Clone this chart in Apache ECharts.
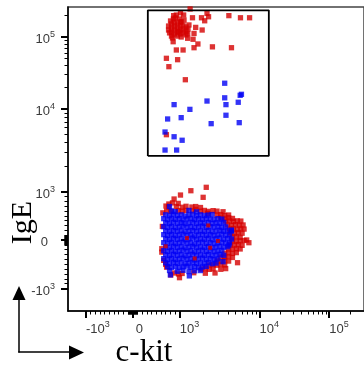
<!DOCTYPE html>
<html>
<head>
<meta charset="utf-8">
<script src="https://cdn.jsdelivr.net/npm/echarts@6/dist/echarts.min.js"></script>
<style>
  html, body { margin: 0; padding: 0; background: #fff; }
  #chart { width: 364px; height: 370px; }
</style>
</head>
<body>
<div id="chart"></div>
<script>
// tick values (real units) and their labels
var majorTicks = [-1000, 0, 1000, 10000, 100000];
var xTickLabels = ['-10{s|3}', '{z|0}', '10{s|3}', '10{s|4}', '10{s|5}'];
var yTickLabels = ['-10{s|3}', '{z|0}', '10{s|3}', '10{s|4}', '10{s|5}'];
var linearMinor = [10, 20, 30, 40, 50, 60, 70, 80, 90, 100, 200, 300, 400, 500, 600, 700, 800, 900];
var decadeMinor = [2000, 3000, 4000, 5000, 6000, 7000, 8000, 9000,
                   20000, 30000, 40000, 50000, 60000, 70000, 80000, 90000, 200000];

// gate (c-kit range, IgE range)
var gateX = [320, 13600];
var gateY = [2700, 235000];

// cells: [c-kit, IgE]
var redGate = [
  [1350,245000],[1445,185000],[1874,185000],[2197,213000],[2297,191000],[2055,168000],[4128,198000],
  [5770,185000],[7503,185000],[1585,136000],[1910,125000],[1511,112000],[1257,96000],[1469,93000],
  [860,86000],[1690,80000],[1511,71000],[2569,73000],[4451,71000],[928,66000],[1102,66000],
  [716,50600],[955,48400],[769,38700],[1176,25500],[716,4880],
  [762,142000],[762,125000],[783,114000],[824,152000],[824,133000],[824,117000],[824,103000],
  [886,161000],[886,142000],[886,125000],[886,110000],[948,152000],[948,133000],[948,117000],
  [948,103000],[1014,161000],[1014,142000],[1014,125000],[1014,110000],[1100,147000],[1100,129000],
  [1100,114000],[1200,138000],[1200,121000],[1200,107000],[1270,129000],[865,178000],[989,178000],
  [1132,172000],[845,97000],[1043,100000],[906,184000],[804,167000],[1305,147000],
  [870,198000],[928,202000],[1022,217000],[1120,202000],[1043,163000],[980,118000],[1257,112000]
];
var blueGate = [
  [3661,22800],[5934,16000],[5722,15500],[2197,12900],[3661,14300],[5411,12400],[3796,11500],
  [880,11500],[1341,9900],[3796,8400],[742,7570],[1043,7850],[2477,6640],[5566,6830],
  [687,5260],[880,4610],[1072,4180],[687,3180],[934,3180]
];
var redBlob = [
  [2150,1124],[1379,1022],[1965,880],[1022,927],[880,845],[768,742],[707,700],[1585,632],[2235,550],[3490,583],
  [845,765],[968,755],
  [762,680],[928,690],[1072,675],[1200,695],[1420,680],[1585,690],[1820,670],
  [721,600],[810,590],[968,605],[1072,595],[1200,610],[1458,600],[1820,595],[2037,610],[2279,590],[2620,605],[2929,595],
  [2929,515],[3270,525],[3663,505],[4100,515],
  [3270,455],[3663,450],[4100,460],[4580,445],
  [3765,390],[4210,395],[4700,385],[5260,395],[5830,390],
  [3981,310],[4451,300],[4980,315],[5566,305],[6220,310],
  [4210,225],[4700,230],[5260,220],[5830,230],[6400,225],
  [4328,145],[4840,140],[5410,150],[6050,140],
  [4580,60],[5118,65],[5722,55],
  [4580,-20],[5118,-25],[5722,-15],[6400,-10],[6900,0],[7356,-56],
  [4328,-100],[4840,-105],[5410,-95],[6050,-110],
  [4100,-185],[4580,-190],[5118,-180],[5722,-185],
  [3663,-270],[4100,-265],[4580,-275],[5118,-260],
  [3270,-350],[3663,-355],[4100,-345],[4580,-360],
  [2929,-430],[3270,-440],[3663,-425],[4100,-435],[5300,-468],
  [2340,-515],[2620,-510],[2929,-520],[3270,-505],[3663,-515],
  [1870,-600],[2095,-590],[2340,-605],[2620,-595],[3270,-604],[3765,-590],
  [886,-680],[1072,-690],[1500,-675],[2095,-685],[2770,-680],
  [974,-700],[995,-777],[810,-721],
  [618,-180],[618,-250],[630,280],[640,560],[700,-500],[720,-560],[659,-420]
];
var blueBlob = [
  [783,690],
  [824,600],[906,585],[1305,610],[1630,580],
  [700,520],[783,500],[865,530],[948,505],[1043,520],[1166,495],[1305,515],[1458,530],[1630,500],[1820,520],[2037,505],[2279,515],[2545,525],
  [659,440],[742,420],[824,445],[906,425],[989,440],[1100,415],[1233,435],[1379,445],[1540,420],[1723,440],[1927,425],[2150,445],[2409,430],[2694,420],[3010,440],[3368,430],
  [700,355],[783,340],[865,365],[948,345],[1043,360],[1166,335],[1305,350],[1458,365],[1630,340],[1820,355],[2037,345],[2279,360],[2545,340],[2848,355],[3184,345],[3560,360],
  [659,275],[742,260],[824,280],[906,255],[989,270],[1100,285],[1233,260],[1379,275],[1540,255],[1723,270],[1927,285],[2150,260],[2409,275],[2694,265],[3010,280],[3368,255],[3765,270],
  [700,190],[783,175],[865,195],[948,180],[1043,200],[1166,170],[1305,185],[1458,195],[1630,175],[1820,190],[2037,180],[2279,195],[2545,170],[2848,185],[3184,200],[3560,180],[3981,190],[4451,185],
  [659,110],[742,95],[824,115],[906,90],[989,105],[1100,120],[1233,95],[1379,110],[1540,85],[1723,105],[1927,115],[2150,95],[2409,110],[2694,90],[3010,105],[3368,120],[3765,100],[4210,110],
  [700,25],[783,10],[865,35],[948,15],[1043,30],[1166,5],[1305,20],[1458,40],[1630,10],[1820,25],[2037,15],[2279,35],[2545,5],[2848,25],[3184,40],[3560,15],[3981,30],[4451,20],
  [659,-55],[742,-70],[824,-50],[906,-75],[989,-60],[1100,-45],[1233,-70],[1379,-55],[1540,-80],[1723,-60],[1927,-45],[2150,-70],[2409,-55],[2694,-75],[3010,-60],[3368,-50],[3765,-65],[4210,-60],
  [700,-140],[783,-155],[865,-130],[948,-150],[1043,-135],[1166,-160],[1305,-145],[1458,-130],[1630,-155],[1820,-140],[2037,-150],[2279,-135],[2545,-160],[2848,-145],[3184,-130],[3560,-150],[3981,-140],[4128,-103],
  [659,-220],[742,-235],[824,-215],[906,-240],[989,-225],[1100,-210],[1233,-235],[1379,-220],[1540,-245],[1723,-225],[1927,-210],[2150,-235],[2409,-220],[2694,-240],[3010,-225],[3368,-215],
  [700,-305],[783,-320],[865,-295],[948,-315],[1043,-300],[1166,-325],[1305,-310],[1458,-295],[1630,-320],[1820,-305],[2037,-315],[2279,-300],[2545,-325],[2848,-310],[3184,-295],[3560,-315],
  [659,-385],[742,-400],[824,-380],[906,-405],[989,-390],[1100,-375],[1233,-400],[1379,-385],[1540,-410],[1723,-390],[1927,-375],[2150,-400],[2409,-385],[2694,-405],[3010,-390],[3490,-447],
  [700,-470],[783,-485],[865,-460],[948,-480],[1043,-465],[1166,-490],[1305,-475],[1458,-460],[1630,-485],[1820,-470],[2037,-480],[2279,-465],[2545,-490],[2848,-475],
  [742,-550],[824,-565],[906,-545],[989,-570],[1100,-555],[1233,-540],[1379,-565],[1540,-550],[1723,-570],[1927,-555],[2150,-545],
  [783,-630],[948,-645],[1100,-625],[1305,-650],[1540,-635],[1820,-630],
  [800,-720],[1320,-740],[4430,206]
];
var redSpecks = [[1233,40],[2409,-160],[2279,300],[700,-130],[1540,-380],[3010,-20]];

// biexponential-like display transform
function T(v) {
  var a = Math.abs(v), d;
  if (a <= 1000) d = a * 0.0485;
  else if (a <= 10000) d = 48.5 + (Math.log10(a) - 3) * 82.5;
  else d = 131 + (Math.log10(a) - 4) * 72;
  return v < 0 ? -d : d;
}
function toDisplay(list) {
  return list.map(function (p) { return [T(p[0]), T(p[1])]; });
}

var minorTicks = [];
linearMinor.forEach(function (v) { minorTicks.push(v, -v); });
decadeMinor.forEach(function (v) { minorTicks.push(v); });
var majorPos = majorTicks.map(T);
var minorPos = minorTicks.map(T);

function labelFor(labels) {
  return function (val) {
    for (var i = 0; i < majorPos.length; i++) {
      if (Math.abs(majorPos[i] - val) < 1e-6) return labels[i];
    }
    return '';
  };
}

var labelFont = '"Liberation Sans", Arial, sans-serif';
var supStyle = { fontSize: 9, lineHeight: 8, verticalAlign: 'top', fontFamily: labelFont, color: '#3a3a3a' };
var dotSize = 5.3;

var gatePath = [
  [gateX[0], gateY[0]], [gateX[1], gateY[0]], [gateX[1], gateY[1]], [gateX[0], gateY[1]], [gateX[0], gateY[0]]
];

var chart = echarts.init(document.getElementById('chart'));
var option = {
  animation: false,
  grid: { left: 68, top: 7, right: -10, bottom: 59, show: true, borderColor: '#444', borderWidth: 1.5 },
  xAxis: [{
    type: 'value', min: -67, max: 239, position: 'bottom',
    axisLine: { show: true, onZero: false, lineStyle: { color: '#000', width: 1.5 } },
    axisTick: { show: true, customValues: majorPos, length: 7, lineStyle: { color: '#000', width: 2 } },
    axisLabel: {
      customValues: majorPos, formatter: labelFor(xTickLabels), align: 'left', margin: 9,
      fontSize: 13, lineHeight: 18, fontFamily: labelFont, color: '#3a3a3a',
      rich: { s: supStyle, z: { padding: [0, 0, 0, 3], fontSize: 13, fontFamily: labelFont, color: '#3a3a3a' } }
    },
    splitLine: { show: false }
  }, {
    type: 'value', min: -67, max: 239, position: 'bottom',
    axisLine: { show: false, onZero: false },
    axisTick: { show: true, customValues: minorPos, length: 3.5, lineStyle: { color: '#000', width: 1 } },
    axisLabel: { show: false },
    splitLine: { show: false }
  }],
  yAxis: [{
    type: 'value', min: -71, max: 233, position: 'left',
    axisLine: { show: true, onZero: false, lineStyle: { color: '#000', width: 1.5 } },
    axisTick: { show: true, customValues: majorPos, length: 7, lineStyle: { color: '#000', width: 2 } },
    axisLabel: {
      customValues: majorPos, formatter: labelFor(yTickLabels), margin: 13, padding: [5, 0, 0, 0],
      fontSize: 13, lineHeight: 18, fontFamily: labelFont, color: '#3a3a3a',
      rich: { s: supStyle, z: { padding: [0, 7, 0, 0], fontSize: 13, fontFamily: labelFont, color: '#3a3a3a' } }
    },
    splitLine: { show: false }
  }, {
    type: 'value', min: -71, max: 233, position: 'left',
    axisLine: { show: false, onZero: false },
    axisTick: { show: true, customValues: minorPos, length: 3.5, lineStyle: { color: '#000', width: 1 } },
    axisLabel: { show: false },
    splitLine: { show: false }
  }],
  series: [{
    type: 'line', data: toDisplay(gatePath), symbol: 'none', silent: true,
    lineStyle: { color: '#000', width: 1.8 }
  }, {
    type: 'scatter', data: toDisplay(redGate.concat(redBlob)), symbol: 'rect', symbolSize: dotSize,
    itemStyle: { color: '#d40000' }, silent: true
  }, {
    type: 'scatter', data: toDisplay(blueGate.concat(blueBlob)), symbol: 'rect', symbolSize: dotSize,
    itemStyle: { color: '#0000f5' }, silent: true
  }, {
    type: 'scatter', data: toDisplay(redSpecks), symbol: 'rect', symbolSize: 4,
    itemStyle: { color: '#d40000' }, silent: true
  }],
  graphic: [
    { type: 'line', shape: { x1: 19, y1: 352.5, x2: 19, y2: 298 }, style: { stroke: '#000', lineWidth: 1.5 } },
    { type: 'polygon', shape: { points: [[19, 286], [12.5, 300], [25.5, 300]] }, style: { fill: '#000' } },
    { type: 'line', shape: { x1: 18.25, y1: 352, x2: 71, y2: 352 }, style: { stroke: '#000', lineWidth: 1.5 } },
    { type: 'polygon', shape: { points: [[69, 345.5], [84, 352.5], [69, 359.5]] }, style: { fill: '#000' } },
    { type: 'text', x: 23, y: 222.5, rotation: Math.PI / 2,
      style: { text: 'IgE', font: '30px "Liberation Serif"', fill: '#000', align: 'center', verticalAlign: 'middle' } },
    { type: 'text', x: 144, y: 353,
      style: { text: 'c-kit', font: '31px "Liberation Serif"', fill: '#000', align: 'center', verticalAlign: 'middle' } }
  ]
};
chart.setOption(option);
</script>
</body>
</html>
